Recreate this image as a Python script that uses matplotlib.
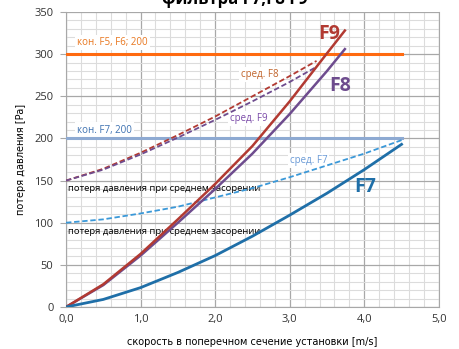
import matplotlib
matplotlib.use("Agg")
import matplotlib.pyplot as plt
from matplotlib.ticker import MultipleLocator, FuncFormatter

plt.rcParams['font.family'] = ['Open Sans', 'DejaVu Sans']

# speed [m/s] and pressure loss [Pa]
x_f9 = [0, 0.5, 1.0, 1.5, 2.0, 2.5, 3.0, 3.5, 3.74]
y_f9 = [0, 27, 63, 104, 146, 191, 244, 301, 328]
x_f8 = [0, 0.5, 1.0, 1.5, 2.0, 2.5, 3.0, 3.5, 3.74]
y_f8 = [0, 26, 61, 100, 140, 182, 229, 280, 306]
x_f7 = [0, 0.5, 1.0, 1.5, 2.0, 2.5, 3.0, 3.5, 4.0, 4.5]
y_f7 = [0, 9, 23, 41, 61, 84, 109, 135, 163, 193]

# medium clogging
x_mid_f7 = [0, 0.5, 1.0, 1.5, 2.0, 2.5, 3.0, 3.5, 4.0, 4.5]
y_mid_f7 = [100, 104, 111, 119, 130, 141, 154, 168, 182, 198]
x_mid_red = [0, 0.5, 1.0, 1.5, 2.0, 2.5, 3.0, 3.36]
y_mid_red = [150, 164, 183, 204, 226, 250, 274, 292]
x_mid_purple = [0, 0.5, 1.0, 1.5, 2.0, 2.5, 3.0, 3.34]
y_mid_purple = [150, 163, 181, 201, 222, 244, 267, 284]

# final pressure loss
final_x = [0, 4.5]
final_f56 = [300, 300]
final_f7 = [200, 200]

c_red = '#b23a32'
c_purple = '#6e4c8e'
c_blue = '#1f6fa8'
c_lblue = '#3a98d8'
c_steel = '#8eaad2'
c_orange = '#ff6a10'

fig = plt.figure(figsize=(4.6, 3.49), dpi=100)
ax = fig.add_axes([0.1435, 0.1203, 0.8105, 0.8453])

ax.plot(final_x, final_f56, color=c_orange, lw=2.2, zorder=3)
ax.plot(final_x, final_f7, color=c_steel, lw=2.2, zorder=3)
ax.plot(x_mid_red, y_mid_red, color=c_red, lw=1.3, ls=(0, (3, 1.5)), zorder=3)
ax.plot(x_mid_purple, y_mid_purple, color=c_purple, lw=1.3, ls=(0, (3, 1.5)), zorder=3)
ax.plot(x_mid_f7, y_mid_f7, color=c_lblue, lw=1.3, ls=(0, (3, 1.5)), zorder=3)
ax.plot(x_f8, y_f8, color=c_purple, lw=1.8, zorder=3)
ax.plot(x_f9, y_f9, color=c_red, lw=1.8, zorder=3)
ax.plot(x_f7, y_f7, color=c_blue, lw=2.0, zorder=3)

ax.set_xlim(0, 5)
ax.set_ylim(0, 350)
ax.xaxis.set_major_locator(MultipleLocator(1))
ax.xaxis.set_minor_locator(MultipleLocator(0.2))
ax.yaxis.set_major_locator(MultipleLocator(50))
ax.yaxis.set_minor_locator(MultipleLocator(10))
ax.xaxis.set_major_formatter(FuncFormatter(lambda v, p: f'{v:.1f}'.replace('.', ',')))
ax.grid(which='major', color='#a8a8a8', lw=0.9)
ax.grid(which='minor', color='#dcdcdc', lw=0.8)
ax.set_axisbelow(True)
ax.spines['top'].set_visible(False)
for s in ['right', 'left', 'bottom']:
    ax.spines[s].set_color('#a8a8a8')
ax.tick_params(which='both', length=0, labelsize=8, colors='#333333', pad=5)
ax.tick_params(axis='y', which='major', length=4, color='#a8a8a8')

lab_font = ['Liberation Sans Narrow', 'DejaVu Sans']
ax.set_xlabel('скорость в поперечном сечение установки [m/s]', fontsize=7,
              family=lab_font, labelpad=9)
ax.set_ylabel('потеря давления [Pa]', fontsize=7, family=lab_font, labelpad=6)

box = dict(facecolor='white', edgecolor='none', pad=1.5)
ax.text(0.15, 311, 'кон. F5, F6; 200', color='#e8761e', fontsize=7, bbox=box, zorder=2)
ax.text(0.15, 207, 'кон. F7, 200', color='#3c70b0', fontsize=7, bbox=box, zorder=2)
ax.text(2.35, 276, 'сред. F8', color='#c0632a', fontsize=7, bbox=box, zorder=2, va='center')
ax.text(2.2, 224, 'сред. F9', color='#7a4aa8', fontsize=7, bbox=box, zorder=2, va='center')
ax.text(3.0, 174, 'сред. F7', color='#6a9ad6', fontsize=7, bbox=box, zorder=2, va='center')
ax.text(0.03, 141, 'потеря давления при среднем засорении', color='black', fontsize=6.8,
        va='center', zorder=2)
ax.text(0.03, 89, 'потеря давления при среднем засорении', color='black', fontsize=6.8,
        va='center', zorder=2)
ax.text(3.38, 318, 'F9', color=c_red, fontsize=14, fontweight='bold')
ax.text(3.53, 256, 'F8', color=c_purple, fontsize=14, fontweight='bold')
ax.text(3.87, 137, 'F7', color=c_blue, fontsize=14, fontweight='bold')

fig.text(0.51, 1.003, 'фильтра F7,F8 F9', ha='center', va='center',
         fontsize=12, fontweight='bold')

fig.savefig('out.png', dpi=100)
